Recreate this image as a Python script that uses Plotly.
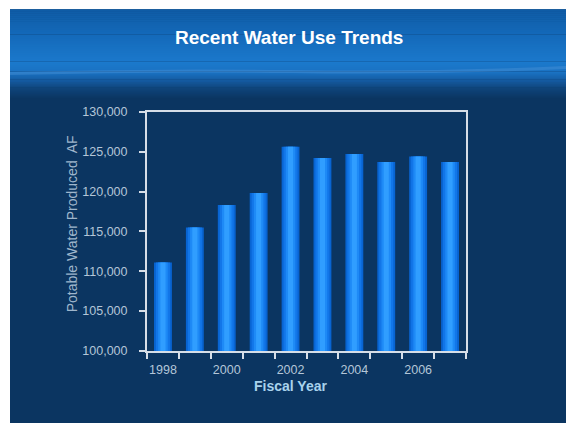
import plotly.graph_objects as go

years = [1998, 1999, 2000, 2001, 2002, 2003, 2004, 2005, 2006, 2007]
water_af = [111100, 115500, 118300, 119800, 125600, 124200, 124700, 123700, 124400, 123700]
y_ticks = [100000, 105000, 110000, 115000, 120000, 125000, 130000]
x_ticks = [1998, 2000, 2002, 2004, 2006]

W, H = 566, 440
OFF, SC = 7.7, 0.9636  # observed vertical mapping of the capture


def px(x):
    return x / W


def py(y_screen):
    ly = (y_screen - OFF) / SC
    return 1 - ly / H


def lerp(c1, c2, t):
    return tuple(round(a + (b - a) * t) for a, b in zip(c1, c2))


def hexc(c):
    return "#%02x%02x%02x" % c


NAVY = (11, 53, 97)
shapes = []
shapes.append(dict(type="rect", xref="paper", yref="paper", x0=px(10), x1=1, y0=0, y1=py(10),
                   fillcolor=hexc(NAVY), line_width=0, layer="below"))
stops = [(10, (15, 92, 166)), (35, (20, 106, 186)), (62, (27, 121, 204)), (72, (26, 114, 194)),
         (80, (20, 90, 160)), (88, (15, 68, 122)), (98, NAVY)]
for i in range(len(stops) - 1):
    y0, c0 = stops[i]
    y1, c1 = stops[i + 1]
    y = y0
    while y < y1:
        t = (y - y0) / (y1 - y0)
        shapes.append(dict(type="rect", xref="paper", yref="paper", x0=px(10), x1=1,
                           y0=py(min(y + 2.5, y1)), y1=py(y), fillcolor=hexc(lerp(c0, c1, t)),
                           line_width=0, layer="below"))
        y += 2
shapes.append(dict(type="path", xref="paper", yref="paper",
                   path="M %f %f Q %f %f %f %f T %f %f" % (px(10), py(74), px(150), py(70), px(290), py(72),
                                                            px(566), py(68)),
                   line=dict(color="rgba(110,170,230,0.25)", width=3), layer="below"))

fig = go.Figure()
bar_layers = [(0.56, "#0864d2"), (0.44, "#1276e8"), (0.30, "#1e8af6"), (0.16, "#309eff")]
for w, c in bar_layers:
    fig.add_trace(go.Bar(x=years, y=water_af, width=w, marker=dict(color=c, line_width=0),
                         showlegend=False, hoverinfo="x+y"))

axis_col = "#d6dee8"
label_col = "#b4c6d8"
fig.update_layout(
    width=W, height=H, margin=dict(l=0, r=0, t=0, b=0),
    paper_bgcolor="white", plot_bgcolor="rgba(0,0,0,0)",
    barmode="overlay", shapes=shapes,
    font=dict(family="Liberation Sans, Arial, sans-serif"),
    xaxis=dict(domain=[px(147), px(466)], range=[1997.5, 2007.5], tickvals=x_ticks,
               ticks="", showgrid=False, zeroline=False, showline=True, linecolor=axis_col,
               linewidth=2, mirror=True, tickfont=dict(size=12.5, color=label_col),
               ticklabelstandoff=6,
               minor=dict(tick0=1997.5, dtick=1, ticks="outside", ticklen=6, tickwidth=2,
                          tickcolor=axis_col, showgrid=False)),
    yaxis=dict(domain=[py(350), py(112)], range=[100000, 130000], tickvals=y_ticks,
               tickformat=",d", ticks="outside", ticklen=6, tickwidth=2, tickcolor=axis_col,
               showgrid=False, zeroline=False, showline=True, linecolor=axis_col, linewidth=2,
               mirror=True, tickfont=dict(size=12.5, color=label_col), ticklabelstandoff=9),
    annotations=[
        dict(text="<b>Recent Water Use Trends</b>", xref="paper", yref="paper", x=px(289), y=py(38),
             showarrow=False, font=dict(size=19, color="white"), xanchor="center", yanchor="middle"),
        dict(text="Potable Water Produced  AF", xref="paper", yref="paper", x=px(72), y=py(224),
             showarrow=False, textangle=-90, font=dict(size=14, color="#9fb6cc"),
             xanchor="center", yanchor="middle"),
        dict(text="<b>Fiscal Year</b>", xref="paper", yref="paper", x=px(290), y=py(385),
             showarrow=False, font=dict(size=14, color="#a8d2ec"), xanchor="center", yanchor="middle"),
    ],
)

fig.write_html("out.html")
